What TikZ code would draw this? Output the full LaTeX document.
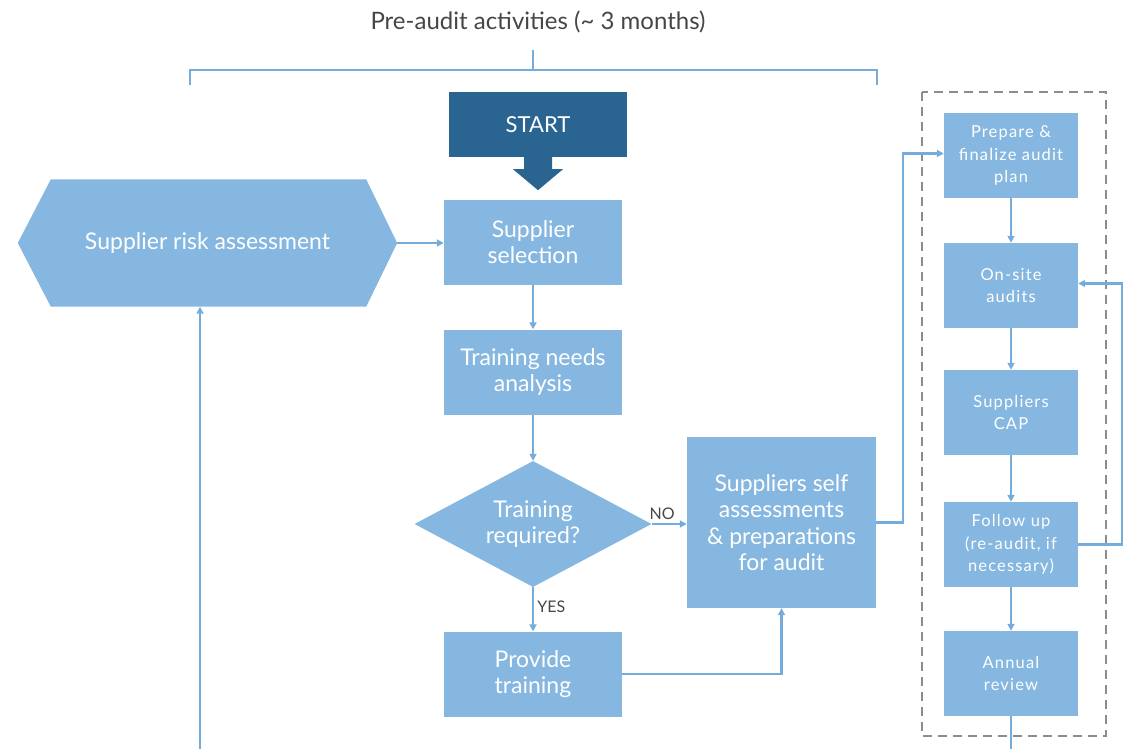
\documentclass[tikz,border=0pt]{standalone}
\usepackage{fontspec}
\setmainfont{Lato}
\newfontfamily\spacedfont[LetterSpace=7]{Lato}
\usetikzlibrary{shapes.geometric,arrows.meta,calc,backgrounds}
\definecolor{boxblue}{RGB}{133,183,224}
\definecolor{lineblue}{RGB}{118,172,220}
\definecolor{startblue}{RGB}{42,100,144}
\definecolor{greytxt}{RGB}{70,70,70}
\definecolor{dashgrey}{RGB}{140,140,140}
\tikzset{
  box/.style={rectangle, fill=boxblue, text=white, align=center, inner sep=2pt},
  bigbox/.style={box, minimum width=178pt, minimum height=85pt, font=\fontsize{23}{26}\selectfont},
  smallbox/.style={box, minimum width=134pt, minimum height=85pt, font=\spacedfont\fontsize{16.5}{22.5}\selectfont},
  conn/.style={draw=lineblue, line width=2.2pt, -{Triangle[length=7pt,width=7pt]}},
  plain/.style={draw=lineblue, line width=2.2pt},
  lbl/.style={text=greytxt, font=\fontsize{16}{18}\selectfont}
}
\begin{document}
\begin{tikzpicture}[x=1pt,y=-1pt]
\useasboundingbox (0,0) rectangle (1126,749);
% title and bracket
\node[text=greytxt, font=\fontsize{24}{28}\selectfont] (title) at (538,22) {Pre-audit activities (\char`~\ 3 months)};
\coordinate (brL) at (190,85);
\coordinate (brR) at (877,85);
\coordinate (brT) at (533,50);
\draw[plain] (brL) -- (190,70) -- (877,70) -- (brR);
\draw[plain] (brT) -- (533,70);
% start
\node[rectangle, fill=startblue, text=white, minimum width=178pt, minimum height=65pt, font=\fontsize{22}{24}\selectfont] (start) at (538,124.5) {START};
\fill[startblue] ([xshift=-14pt]start.south) -- ++(28,0) -- ++(0,12) -- ++(11,0) -- ++(-25,21) -- ++(-25,-21) -- ++(11,0) -- cycle;
% hexagon
\node[rectangle, minimum width=379pt, minimum height=127pt, inner sep=0pt, text=white, font=\fontsize{23}{26}\selectfont] (risk) at (207.5,243) {Supplier risk assessment};
\begin{scope}[on background layer]
\fill[boxblue] (risk.west) -- ([xshift=33pt]risk.north west) -- ([xshift=-31pt]risk.north east) -- (risk.east) -- ([xshift=-31pt]risk.south east) -- ([xshift=33pt]risk.south west) -- cycle;
\end{scope}
% main column
\node[bigbox] (sel) at (533,242) {Supplier\\selection};
\node[bigbox] (tna) at (533,372) {Training needs\\analysis};
\node[diamond, fill=boxblue, text=white, align=center, inner sep=0pt, aspect=1.88, minimum width=237pt, minimum height=126pt, font=\fontsize{23}{26}\selectfont] (dia) at (533,524) {Training\\required?};
\node[bigbox] (prov) at (533,674) {Provide\\training};
\node[box, minimum width=189pt, minimum height=171pt, font=\fontsize{23}{26.5}\selectfont] (ssa) at (781.5,522.5) {Suppliers self\\assessments\\\& preparations\\for audit};
% right column
\draw[dashgrey, line width=1.5pt, dash pattern=on 9pt off 6pt] (922,92) rectangle (1106,736);
\node[smallbox] (prep) at (1011,155.5) {Prepare \&\\finalize audit\\plan};
\node[smallbox] (onsite) at (1011,285.5) {On-site\\audits};
\node[smallbox] (cap) at (1011,412.5) {Suppliers\\CAP};
\node[smallbox] (follow) at (1011,544.5) {Follow up\\(re-audit, if\\necessary)};
\node[smallbox] (annual) at (1011,673.5) {Annual\\review};
% connectors
\draw[conn] (risk.east) -- (risk.east -| sel.west);
\draw[conn] (sel) -- (tna);
\draw[conn] (tna) -- (dia.north);
\draw[conn] (dia.south) -- node[lbl, right, pos=0.45] {YES} (prov.north);
\draw[conn] (dia.east) -- node[lbl, above, pos=0.3] {NO} (dia.east -| ssa.west);
\draw[conn] (prov.east) -- (prov.east -| ssa.south) -- (ssa.south);
\draw[conn] (ssa.east) -- ++(27,0) |- ([yshift=2pt]prep.west);
\draw[conn] (prep) -- (onsite);
\draw[conn] (onsite) -- (cap);
\draw[conn] (cap) -- (follow);
\draw[conn] (follow) -- (annual);
\draw[conn] (follow.east) -- ++(44,0) |- ([yshift=2pt]onsite.east);
\coordinate (endA) at (1011,749);
\draw[plain] (annual.south) -- (endA);
\coordinate (startB) at (200,749);
\draw[conn] (startB) -- (startB |- risk.south);
\end{tikzpicture}
\end{document}
